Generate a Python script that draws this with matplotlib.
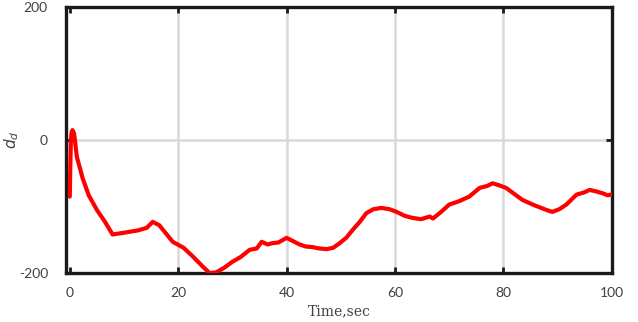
import numpy as np
import matplotlib.pyplot as plt

plt.rcParams['axes.unicode_minus'] = False

# d_d signal (time in sec, value)
time_s = [0.0, 0.1, 0.2, 0.35, 0.5, 0.8, 1.3, 2.4, 3.5, 5.0, 6.5, 7.9, 9.5, 11.0, 12.5,
          14.2, 15.3, 16.5, 19.0, 21.0, 22.7, 24.5, 25.8, 27.0, 28.5, 30.0, 31.5, 33.2,
          34.5, 35.4, 36.5, 37.4, 38.5, 40.0, 41.2, 42.4, 43.5, 44.8, 46.0, 47.4, 48.6,
          49.8, 51.0, 52.2, 53.5, 54.7, 56.0, 57.5, 59.0, 60.3, 61.8, 63.2, 64.8, 66.4,
          67.0, 68.5, 70.0, 71.8, 73.7, 75.6, 77.0, 78.0, 79.2, 80.5, 82.0, 83.5, 85.7,
          87.9, 89.0, 90.3, 91.6, 93.5, 94.8, 95.9, 97.0, 98.3, 99.2, 100.0]
d_d = [-85, -40, 0, 12, 15, 10, -25, -58, -83, -105, -123, -142, -140, -138, -136,
       -132, -123, -128, -153, -162, -175, -190, -200, -199, -192, -183, -176, -165,
       -163, -153, -157, -155, -154, -147, -152, -157, -160, -161, -163, -164, -162,
       -155, -147, -135, -123, -110, -104, -102, -104, -108, -114, -117, -119, -115,
       -118, -108, -97, -92, -85, -72, -69, -65, -68, -72, -81, -90, -98,
       -105, -108, -104, -97, -82, -79, -75, -77, -80, -83, -82]

x_ticks = [0, 20, 40, 60, 80, 100]
y_ticks = [-200, 0, 200]

fig = plt.figure(figsize=(6.38, 3.22), dpi=100)
ax = fig.add_axes([0.1034, 0.152, 0.8556, 0.826])

ax.plot(time_s, d_d, color='#ff0000', linewidth=3.0, solid_joinstyle='round',
        solid_capstyle='round', zorder=3)

ax.set_xlim(-0.7, 100)
ax.set_ylim(-200, 200)
ax.set_xticks(x_ticks)
ax.set_yticks(y_ticks)

# grid only at the interior ticks
for xv in x_ticks[1:-1]:
    ax.axvline(xv, color='#d9d9d9', linewidth=1.8, zorder=1)
ax.axhline(0, color='#d9d9d9', linewidth=1.8, zorder=1)

for s in ax.spines.values():
    s.set_linewidth(2.4)
    s.set_color('#1a1a1a')

ax.tick_params(axis='both', direction='in', length=4, width=2, color='#1a1a1a',
               top=True, right=True, labelsize=10, labelcolor='#404040')
ax.tick_params(axis='x', pad=10)
ax.tick_params(axis='y', pad=13)
for lab in ax.get_xticklabels() + ax.get_yticklabels():
    lab.set_family('Lato')

ax.set_xlabel('Time,sec', family='DejaVu Serif', fontsize=10, color='#404040', labelpad=4)
ax.set_ylabel(r'$d_d$', fontsize=11, color='#404040')
ax.yaxis.set_label_coords(-0.082, 0.5)

fig.savefig('out.png', dpi=100)
